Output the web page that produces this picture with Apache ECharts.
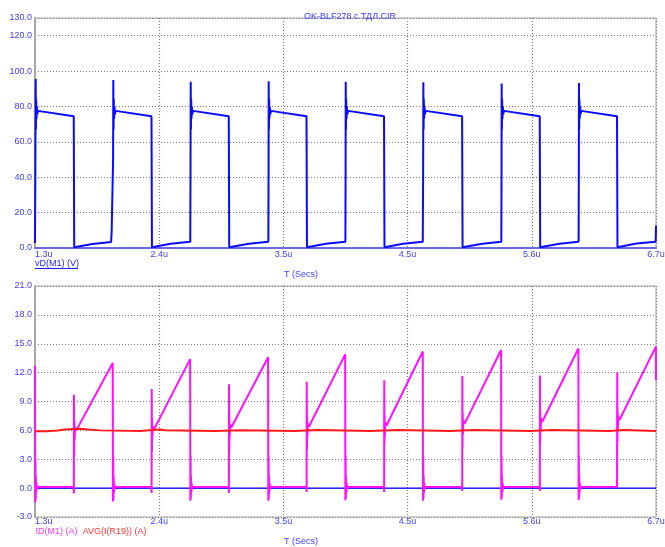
<!DOCTYPE html>
<html>
<head>
<meta charset="utf-8">
<style>html,body{margin:0;padding:0;background:#fff}#c{width:665px;height:547px}</style>
<script src="https://cdn.jsdelivr.net/npm/echarts@6/dist/echarts.min.js"></script>
</head>
<body>
<div id="c"></div>
<script>
// ---- Data (time in microseconds) ----
const titleText = 'OK-BLF278 с ТДЛ.CIR';
const xTickLabels = ['1.3u', '2.4u', '3.5u', '4.5u', '5.6u', '6.7u'];
const topTickLabels = ['0.0', '20.0', '40.0', '60.0', '80.0', '100.0', '120.0', '130.0'];
const bottomTickLabels = ['-3.0', '0.0', '3.0', '6.0', '9.0', '12.0', '15.0', '18.0', '21.0'];

// vD(M1) (V)
const vD = [
  [1.300, 2.8], [1.303, 45], [1.306, 95.5], [1.308, 67], [1.310, 84], [1.313, 73], [1.316, 80], [1.320, 75.5], [1.326, 77.5], [1.340, 77.0], [1.637, 74.5], [1.641, 0.4], [1.645, 1.4], [1.800, 2.3], [1.962, 3.4], [1.967, 10], [1.979, 50],
  [1.981, 95], [1.983, 67], [1.985, 84], [1.988, 73], [1.991, 80], [1.995, 75.5], [2.001, 77.5], [2.015, 77.0], [2.313, 74.5], [2.317, 0.4], [2.321, 1.4], [2.480, 2.4], [2.650, 3.5], [2.652, 37.5],
  [2.654, 94], [2.656, 67], [2.658, 84], [2.661, 73], [2.664, 80], [2.668, 75.5], [2.674, 77.5], [2.688, 77.0], [2.985, 74.5], [2.989, 0.4], [2.993, 1.4], [3.160, 2.4], [3.329, 3.5], [3.331, 45],
  [3.332, 94.3], [3.334, 67], [3.336, 84], [3.339, 73], [3.342, 80], [3.346, 75.5], [3.352, 77.5], [3.366, 77.0], [3.661, 74.5], [3.665, 0.4], [3.669, 1.4], [3.830, 2.4], [3.999, 3.5], [4.001, 45],
  [4.002, 94], [4.004, 67], [4.006, 84], [4.009, 73], [4.012, 80], [4.016, 75.5], [4.022, 77.5], [4.036, 77.0], [4.335, 74.5], [4.339, 0.4], [4.343, 1.4], [4.500, 2.4], [4.672, 3.5], [4.675, 43],
  [4.677, 93.7], [4.679, 67], [4.681, 84], [4.684, 73], [4.687, 80], [4.691, 75.5], [4.697, 77.5], [4.711, 77.0], [5.014, 74.5], [5.018, 0.4], [5.022, 1.4], [5.190, 2.4], [5.355, 3.5], [5.357, 45],
  [5.358, 93], [5.360, 67], [5.362, 84], [5.365, 73], [5.368, 80], [5.372, 75.5], [5.378, 77.5], [5.392, 77.0], [5.689, 74.5], [5.693, 0.4], [5.697, 1.4], [5.860, 2.4], [6.027, 3.5], [6.029, 45],
  [6.030, 93.3], [6.032, 67], [6.034, 84], [6.037, 73], [6.040, 80], [6.044, 75.5], [6.050, 77.5], [6.064, 77.0], [6.361, 74.5], [6.365, 0.4], [6.369, 1.4], [6.530, 2.5], [6.697, 3.6], [6.700, 12.6]
];

// ID(M1) (A)
const iD = [
  [1.300, 12.7], [1.302, -1.5], [1.304, 3.0], [1.306, -1.2], [1.308, 1.2], [1.310, -0.5], [1.313, 0.5], [1.317, -0.1], [1.323, 0.12],
  [1.637, 0.12], [1.638, -0.55], [1.639, 9.7], [1.641, 3.4], [1.642, 7.0], [1.644, 5.0], [1.649, 6.3], [1.659, 6.0], [1.976, 13.0],
  [1.978, -1.4], [1.980, 3.4], [1.982, -1.2], [1.984, 1.2], [1.986, -0.5], [1.989, 0.5], [1.993, -0.1], [1.999, 0.12],
  [2.313, 0.12], [2.314, -0.5], [2.315, 10.3], [2.317, 3.8], [2.318, 7.2], [2.320, 5.1], [2.325, 6.4], [2.335, 6.1], [2.649, 13.4],
  [2.651, -1.3], [2.653, 3.4], [2.655, -1.1], [2.657, 1.2], [2.659, -0.5], [2.662, 0.5], [2.666, -0.1], [2.672, 0.12],
  [2.985, 0.12], [2.986, -0.5], [2.987, 10.8], [2.989, 3.8], [2.990, 7.4], [2.992, 5.2], [2.997, 6.6], [3.007, 6.3], [3.327, 13.6],
  [3.329, -1.3], [3.331, 3.4], [3.333, -1.1], [3.335, 1.2], [3.337, -0.5], [3.340, 0.5], [3.344, -0.1], [3.350, 0.12],
  [3.661, 0.12], [3.662, -0.4], [3.663, 11.05], [3.665, 4.0], [3.666, 7.5], [3.668, 5.3], [3.673, 6.7], [3.683, 6.4], [3.997, 13.9],
  [3.999, -1.25], [4.001, 3.4], [4.003, -1.1], [4.005, 1.2], [4.007, -0.5], [4.010, 0.5], [4.014, -0.1], [4.020, 0.12],
  [4.335, 0.12], [4.336, -0.4], [4.337, 11.2], [4.339, 4.8], [4.340, 7.6], [4.342, 5.4], [4.347, 6.8], [4.357, 6.5], [4.672, 14.2],
  [4.674, -1.3], [4.676, 3.4], [4.678, -1.1], [4.680, 1.2], [4.682, -0.5], [4.685, 0.5], [4.689, -0.1], [4.695, 0.12],
  [5.014, 0.12], [5.015, -0.3], [5.016, 11.65], [5.018, 4.2], [5.019, 7.8], [5.021, 5.6], [5.026, 7.0], [5.036, 6.7], [5.353, 14.35],
  [5.355, -1.2], [5.357, 3.4], [5.359, -1.0], [5.361, 1.2], [5.363, -0.5], [5.366, 0.5], [5.370, -0.1], [5.376, 0.12],
  [5.689, 0.12], [5.690, -0.3], [5.691, 11.7], [5.693, 4.8], [5.694, 8.0], [5.696, 5.8], [5.701, 7.2], [5.711, 6.9], [6.025, 14.5],
  [6.027, -1.25], [6.029, 3.4], [6.031, -1.0], [6.033, 1.2], [6.035, -0.5], [6.038, 0.5], [6.042, -0.1], [6.048, 0.12],
  [6.361, 0.12], [6.362, 0.0], [6.363, 12.0], [6.365, 4.8], [6.366, 8.2], [6.368, 6.0], [6.373, 7.4], [6.383, 7.1], [6.699, 14.7], [6.700, 11.2]
];

// AVG(I(R19)) (A)
const avgI = [
  [1.300, 5.92], [1.402, 5.99], [1.500, 6.08], [1.561, 6.18], [1.691, 6.10], [1.761, 6.00], [1.865, 5.93],
  [2.213, 6.02], [2.300, 6.10], [2.387, 6.02], [2.430, 5.93], [2.865, 6.02], [3.083, 5.93],
  [3.561, 6.03], [3.761, 5.93], [4.213, 6.03], [4.457, 5.93], [4.909, 6.03], [5.117, 5.93],
  [5.604, 6.03], [5.796, 5.93], [6.291, 6.03], [6.422, 5.93], [6.700, 5.93]
];

// zero reference of the current plot
const zeroRef = [[1.3, 0], [6.7, 0]];

// ---- Chart ----
const FONT = 'Liberation Sans, Arial, sans-serif';
const LABEL = '#4040f2';
const GRIDC = '#7c7c7c';
const chart = echarts.init(document.getElementById('c'), null, { renderer: 'canvas' });

function xAxisFor(idx, margin, lineColor, lineWidth) {
  return {
    type: 'value', gridIndex: idx, min: 1.3, max: 6.7, interval: 1.08,
    axisLine: { show: true, lineStyle: { color: lineColor, width: lineWidth } },
    axisTick: { show: false },
    axisLabel: {
      margin: margin, color: LABEL, fontSize: 9, fontFamily: FONT,
      alignMinLabel: 'left', alignMaxLabel: 'center',
      formatter: function (v) {
        const i = Math.round((v - 1.3) / 1.08);
        return xTickLabels[i] !== undefined ? xTickLabels[i] : '';
      }
    },
    splitLine: { show: true, lineStyle: { color: GRIDC, width: 1.2, type: [1, 2] } }
  };
}
function yAxisFor(idx, min, max, interval, labels) {
  return {
    type: 'value', gridIndex: idx, min: min, max: max, interval: interval,
    axisLine: { show: true, lineStyle: { color: '#a8a8a8', width: 2 } },
    axisTick: { show: false },
    axisLabel: {
      margin: 3, color: LABEL, fontSize: 9, fontFamily: FONT,
      formatter: function (v) {
        const s = v.toFixed(1);
        return labels.indexOf(s) >= 0 ? s : '';
      }
    },
    splitLine: { show: true, lineStyle: { color: GRIDC, width: 1, type: [1, 2] } }
  };
}

const option = {
  animation: false,
  backgroundColor: '#ffffff',
  title: {
    text: titleText, left: 345, top: 7, textAlign: 'center',
    textStyle: { color: LABEL, fontSize: 9, fontWeight: 'normal', fontFamily: FONT }
  },
  grid: [
    { left: 35, top: 18, width: 621, height: 230, show: true, borderColor: '#a4a4a4', borderWidth: 1, outerBoundsMode: 'none', containLabel: false },
    { left: 35, top: 286, width: 621, height: 231, show: true, borderColor: '#a4a4a4', borderWidth: 1, outerBoundsMode: 'none', containLabel: false }
  ],
  xAxis: [
    xAxisFor(0, 2, '#6a6ae2', 2),
    xAxisFor(1, 0, '#a4a4a4', 1)
  ],
  yAxis: [
    yAxisFor(0, 0, 130, 20, topTickLabels),
    yAxisFor(1, -3, 21, 3, bottomTickLabels)
  ],
  series: [
    { name: 'vD(M1) (V)', type: 'line', xAxisIndex: 0, yAxisIndex: 0, data: vD, showSymbol: false,
      lineStyle: { color: '#0a0aff', width: 2 }, z: 3 },
    { name: 'zero', type: 'line', xAxisIndex: 1, yAxisIndex: 1, data: zeroRef, showSymbol: false,
      lineStyle: { color: '#0000ff', width: 1.2 }, z: 2 },
    { name: 'ID(M1) (A)', type: 'line', xAxisIndex: 1, yAxisIndex: 1, data: iD, showSymbol: false,
      lineStyle: { color: '#ff10ff', width: 2 }, z: 3 },
    { name: 'AVG(I(R19)) (A)', type: 'line', xAxisIndex: 1, yAxisIndex: 1, data: avgI, showSymbol: false, step: 'end',
      lineStyle: { color: '#ff1a1a', width: 2 }, z: 4 }
  ],
  graphic: [
    { type: 'text', left: 35, top: 259, style: { text: 'vD(M1) (V)', fill: '#2020ff', font: '9px ' + FONT } },
    { type: 'line', shape: { x1: 35, y1: 268.5, x2: 78, y2: 268.5 }, style: { stroke: '#2020ff', lineWidth: 1 } },
    { type: 'text', left: 284, top: 270, style: { text: 'T (Secs)', fill: LABEL, font: '9px ' + FONT } },
    { type: 'text', left: 35.5, top: 527, style: { text: 'ID(M1) (A)', fill: '#ff33ff', font: '9px ' + FONT } },
    { type: 'text', left: 82.7, top: 527, style: { text: 'AVG(I(R19)) (A)', fill: '#ff3333', font: '9px ' + FONT } },
    { type: 'text', left: 284, top: 537, style: { text: 'T (Secs)', fill: LABEL, font: '9px ' + FONT } }
  ]
};
chart.setOption(option);
</script>
</body>
</html>
